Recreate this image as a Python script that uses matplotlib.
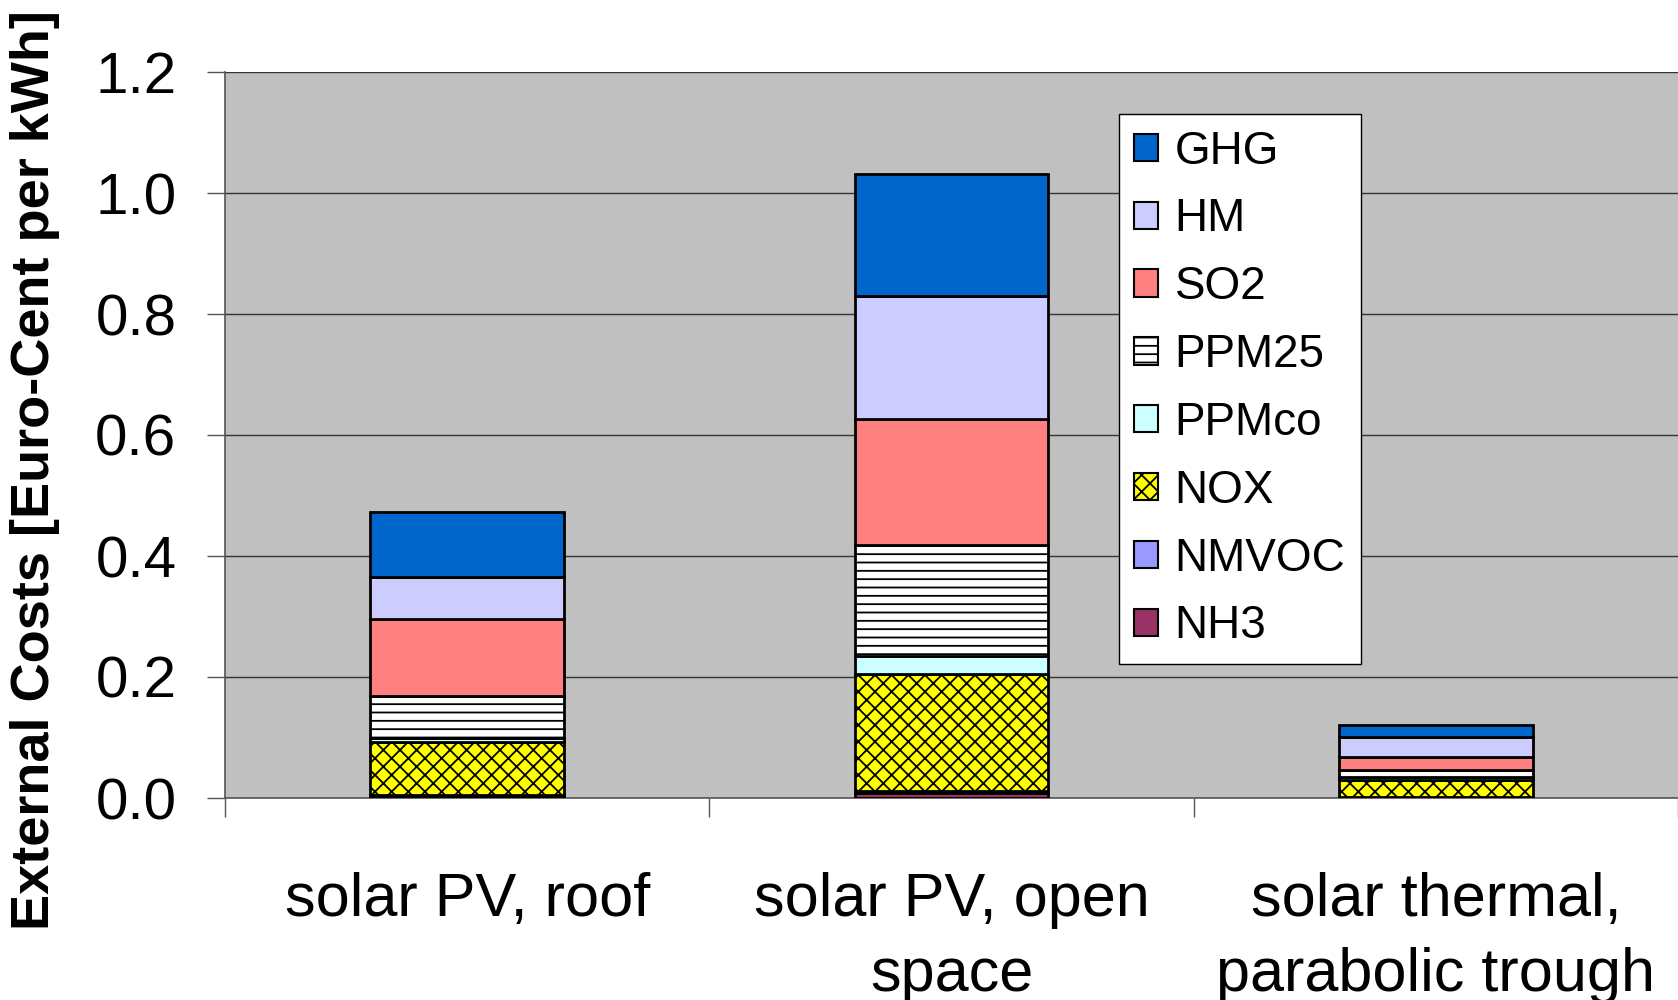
import matplotlib
matplotlib.use("Agg")
import matplotlib.pyplot as plt
import numpy as np

# Technologies and external cost components (Euro-Cent per kWh)
categories = ["solar PV, roof", "solar PV, open\nspace", "solar thermal,\nparabolic trough"]
components = ["NH3", "NMVOC", "NOX", "PPMco", "PPM25", "SO2", "HM", "GHG"]

nh3   = [0.003, 0.008, 0.0005]
nmvoc = [0.002, 0.004, 0.0005]
nox   = [0.087, 0.193, 0.029]
ppmco = [0.008, 0.029, 0.004]
ppm25 = [0.068, 0.184, 0.012]
so2   = [0.128, 0.208, 0.022]
hm    = [0.070, 0.203, 0.033]
ghg   = [0.106, 0.202, 0.020]

yticks = [0.0, 0.2, 0.4, 0.6, 0.8, 1.0, 1.2]

series = [nh3, nmvoc, nox, ppmco, ppm25, so2, hm, ghg]
styles = {
    "NH3":   dict(color="#993366", hatch=None),
    "NMVOC": dict(color="#9999FF", hatch=None),
    "NOX":   dict(color="#FFFF00", hatch="xx"),
    "PPMco": dict(color="#CCFFFF", hatch=None),
    "PPM25": dict(color="#FFFFFF", hatch="--"),
    "SO2":   dict(color="#FF8080", hatch=None),
    "HM":    dict(color="#CCCCFF", hatch=None),
    "GHG":   dict(color="#0066CC", hatch=None),
}

plt.rcParams["font.family"] = ["Liberation Sans", "DejaVu Sans"]
plt.rcParams["hatch.linewidth"] = 1.3
plt.rcParams["hatch.color"] = "black"

fig = plt.figure(figsize=(16.78, 10), dpi=100)
ax = fig.add_axes([0.1341, 0.202, 0.8659, 0.726])
ax.set_facecolor("#C0C0C0")

x = np.arange(len(categories))
bottom = np.zeros(len(categories))
handles = {}
for name, vals in zip(components, series):
    st = styles[name]
    bars = ax.bar(x, vals, width=0.4, bottom=bottom, color=st["color"],
                  hatch=st["hatch"], edgecolor="black", linewidth=2.0, zorder=3,
                  label=name)
    handles[name] = bars
    bottom += np.array(vals)

ax.set_xlim(-0.5, len(categories) - 0.5)
ax.set_ylim(0, 1.2)
ax.set_yticks(yticks)
ax.set_yticklabels([f"{v:.1f}" for v in yticks], fontsize=42)
ax.yaxis.grid(True, color="#333333", linewidth=1.0, zorder=0)
ax.set_axisbelow(True)

ax.set_xticks(x)
ax.set_xticklabels(categories, fontsize=44, linespacing=1.42)
ax.tick_params(axis="x", which="major", length=0, pad=53)
ax.set_xticks(np.arange(len(categories) + 1) - 0.5, minor=True)
ax.tick_params(axis="x", which="minor", length=14, width=1.0, color="#555555")
ax.tick_params(axis="y", length=13, width=1.0, color="#555555", pad=22)

for side in ["top", "right"]:
    ax.spines[side].set_visible(False)
ax.spines["left"].set_color("#555555")
ax.spines["left"].set_linewidth(1.2)
ax.spines["bottom"].set_color("#555555")
ax.spines["bottom"].set_linewidth(1.2)

fig.text(0.021, 0.53, "External Costs [Euro-Cent per kWh]", rotation=90,
         fontsize=39, fontweight="bold", ha="center", va="center")

legend_order = ["GHG", "HM", "SO2", "PPM25", "PPMco", "NOX", "NMVOC", "NH3"]
leg = ax.legend([handles[n] for n in legend_order], legend_order,
                loc="upper left", bbox_to_anchor=(0.615, 0.9415),
                fontsize=33, frameon=True, fancybox=False, framealpha=1.0,
                edgecolor="black", handlelength=0.54, handleheight=0.54,
                handletextpad=0.35, labelspacing=0.52, borderpad=0.33,
                borderaxespad=0)
leg.get_frame().set_linewidth(1.0)
for patch in leg.get_patches():
    patch.set_linewidth(1.5)

fig.savefig("out.png", dpi=100, facecolor="white")
